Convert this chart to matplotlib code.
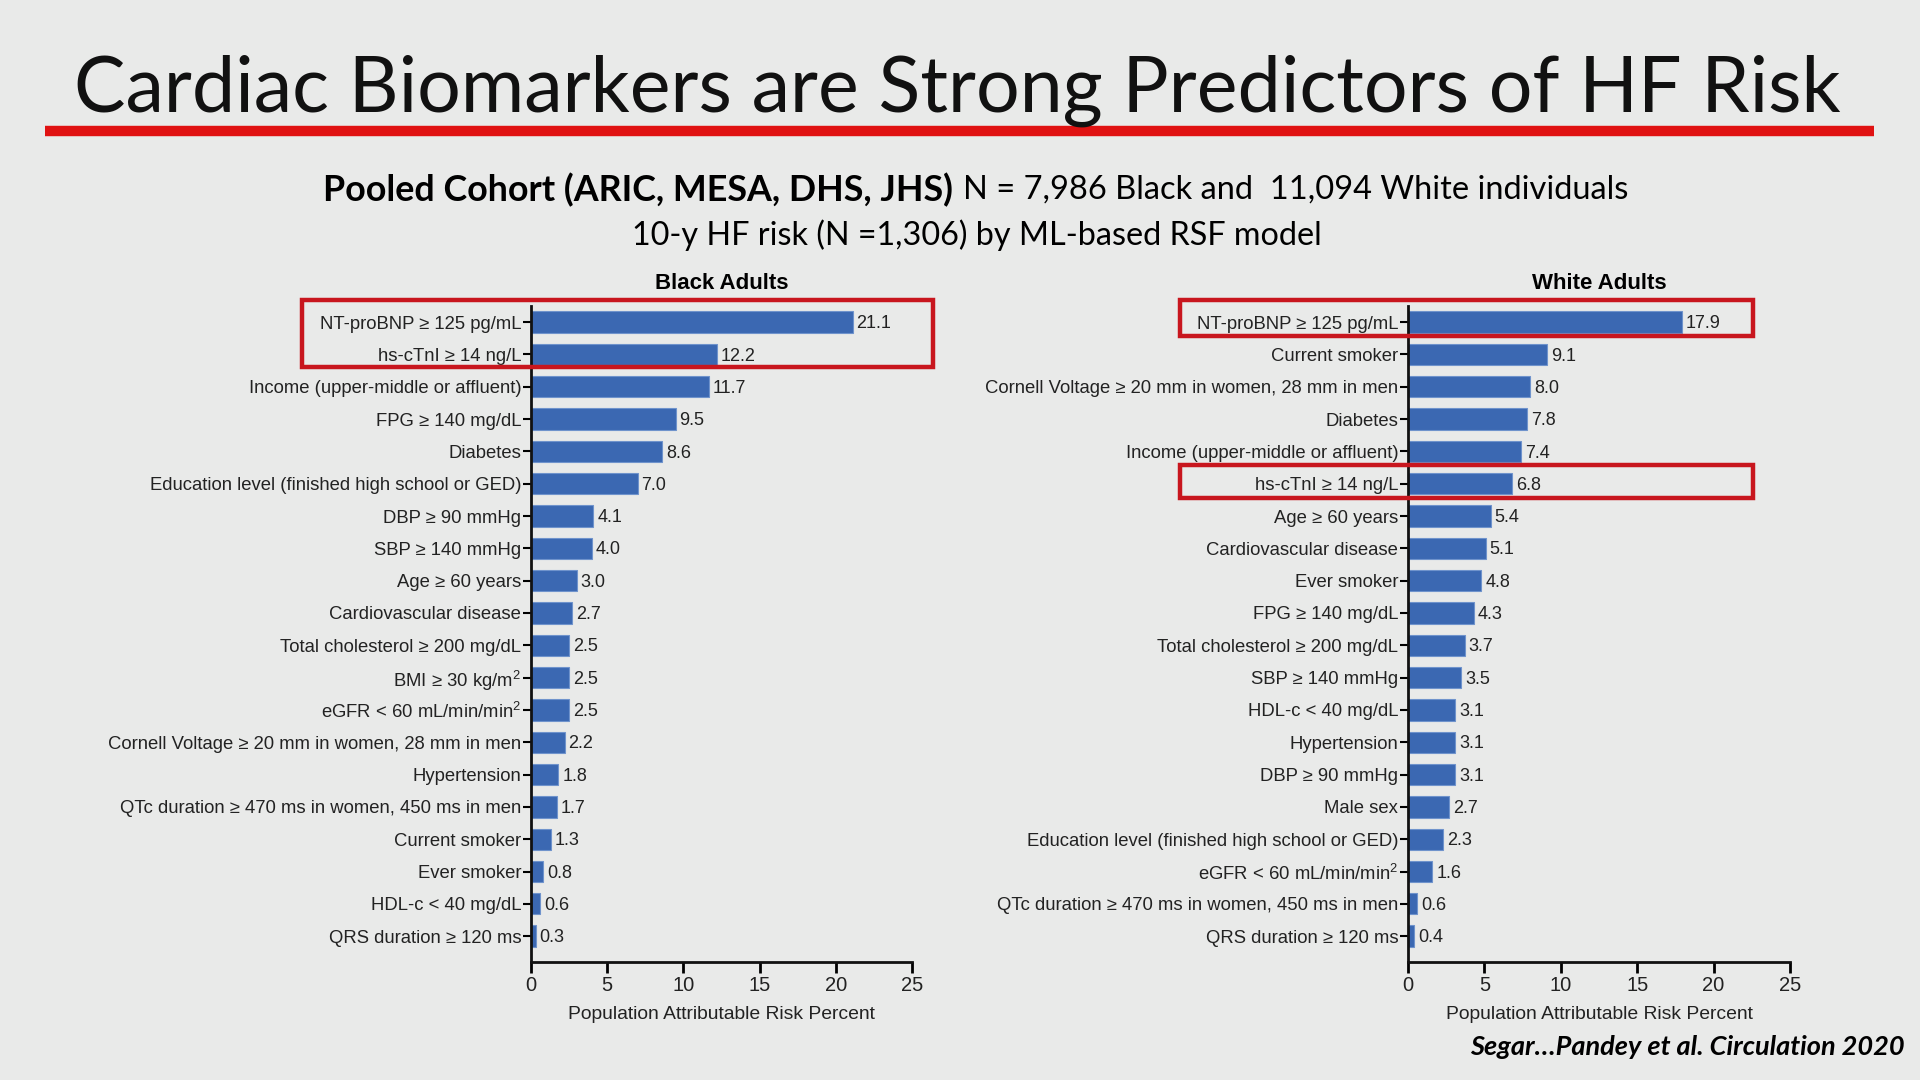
import matplotlib
matplotlib.use("Agg")
import matplotlib.pyplot as plt
from matplotlib.patches import Rectangle
import numpy as np

# data
black_labels = [
    "NT-proBNP ≥ 125 pg/mL", "hs-cTnI ≥ 14 ng/L", "Income (upper-middle or affluent)",
    "FPG ≥ 140 mg/dL", "Diabetes", "Education level (finished high school or GED)",
    "DBP ≥ 90 mmHg", "SBP ≥ 140 mmHg", "Age ≥ 60 years", "Cardiovascular disease",
    "Total cholesterol ≥ 200 mg/dL", "BMI ≥ 30 kg/m$^2$", "eGFR < 60 mL/min/min$^2$",
    "Cornell Voltage ≥ 20 mm in women, 28 mm in men", "Hypertension",
    "QTc duration ≥ 470 ms in women, 450 ms in men", "Current smoker", "Ever smoker",
    "HDL-c < 40 mg/dL", "QRS duration ≥ 120 ms",
]
black_values = [21.1, 12.2, 11.7, 9.5, 8.6, 7.0, 4.1, 4.0, 3.0, 2.7,
                2.5, 2.5, 2.5, 2.2, 1.8, 1.7, 1.3, 0.8, 0.6, 0.3]

white_labels = [
    "NT-proBNP ≥ 125 pg/mL", "Current smoker", "Cornell Voltage ≥ 20 mm in women, 28 mm in men",
    "Diabetes", "Income (upper-middle or affluent)", "hs-cTnI ≥ 14 ng/L", "Age ≥ 60 years",
    "Cardiovascular disease", "Ever smoker", "FPG ≥ 140 mg/dL", "Total cholesterol ≥ 200 mg/dL",
    "SBP ≥ 140 mmHg", "HDL-c < 40 mg/dL", "Hypertension", "DBP ≥ 90 mmHg", "Male sex",
    "Education level (finished high school or GED)", "eGFR < 60 mL/min/min$^2$",
    "QTc duration ≥ 470 ms in women, 450 ms in men", "QRS duration ≥ 120 ms",
]
white_values = [17.9, 9.1, 8.0, 7.8, 7.4, 6.8, 5.4, 5.1, 4.8, 4.3,
                3.7, 3.5, 3.1, 3.1, 3.1, 2.7, 2.3, 1.6, 0.6, 0.4]

x_ticks = [0, 5, 10, 15, 20, 25]

bg = "#e9eae9"
bar_color = "#3b68b2"
box_red = "#c8161e"
chart_font = ["Liberation Sans", "DejaVu Sans"]
slide_font = ["Lato", "DejaVu Sans"]

plt.rcParams["mathtext.fontset"] = "custom"
plt.rcParams["mathtext.rm"] = "Liberation Sans"

fig = plt.figure(figsize=(19.2, 10.8), dpi=100, facecolor=bg)

# slide title + red rule
fig.text(0.0385, 1 - 112 / 1080, "Cardiac Biomarkers are Strong Predictors of HF Risk",
         fontsize=55.5, family=slide_font, va="baseline", ha="left", color="#111111")
fig.add_artist(plt.Line2D([45 / 1920, 1874 / 1920], [1 - 131 / 1080] * 2,
                          color="#e01212", lw=7.5, solid_capstyle="butt"))

# subtitle, bold part then regular part
renderer = fig.canvas.get_renderer()
t1 = fig.text(323 / 1920, 1 - 190 / 1080, "Pooled Cohort (ARIC, MESA, DHS, JHS)",
              fontsize=25.8, fontweight="bold", family=slide_font, va="center", ha="left")
bb = t1.get_window_extent(renderer)
fig.text(bb.x1 / 1920 + 0.005, 1 - 190 / 1080, "N = 7,986 Black and  11,094 White individuals",
         fontsize=23.5, family=slide_font, va="center", ha="left")
fig.text(977 / 1920, 1 - 235 / 1080, "10-y HF risk (N =1,306) by ML-based RSF model",
         fontsize=23.3, family=slide_font, va="center", ha="center")

fig.text(1905 / 1920, 1 - 1047 / 1080, "Segar…Pandey et al. Circulation 2020",
         fontsize=19.5, fontweight="bold", style="italic", family=slide_font,
         va="center", ha="right")


def draw_panel(rect, labels, values, title, boxes):
    ax = fig.add_axes(rect)
    ax.set_facecolor(bg)
    y = np.arange(len(labels))
    ax.barh(y, values, height=0.66, color=bar_color, edgecolor="#6f93cc", linewidth=0.8)
    for yi, v in zip(y, values):
        ax.text(v + 0.25, yi + 0.05, f"{v:.1f}", va="center", ha="left", fontsize=13,
                family=chart_font, color="#222222")
    ax.set_yticks(y)
    ax.set_yticklabels(labels, fontsize=13.3, family=chart_font, color="#222222")
    ax.set_ylim(19.8, -0.5)
    ax.set_xlim(0, 25)
    ax.set_xticks(x_ticks)
    ax.set_xticklabels([str(t) for t in x_ticks], fontsize=14.5, family=chart_font, color="#222222")
    ax.set_xlabel("Population Attributable Risk Percent", fontsize=13.9, family=chart_font,
                  color="#222222", labelpad=8)
    ax.set_title(title, fontsize=16, fontweight="bold", family=chart_font, pad=12)
    for s in ["top", "right"]:
        ax.spines[s].set_visible(False)
    for s in ["left", "bottom"]:
        ax.spines[s].set_linewidth(2)
        ax.spines[s].set_color("#111111")
    ax.tick_params(axis="y", length=6, width=1.5, pad=1)
    ax.tick_params(axis="x", length=8, width=2, pad=2)
    for x0, x1, y0, y1 in boxes:
        ax.add_patch(Rectangle((x0, y0), x1 - x0, y1 - y0, fill=False, edgecolor=box_red,
                               linewidth=3.2, clip_on=False, zorder=5))
    return ax


draw_panel([531 / 1920, 118 / 1080, 381 / 1920, 656 / 1080], black_labels, black_values,
           "Black Adults", [(-15.0, 26.4, -0.68, 1.39)])
draw_panel([1408 / 1920, 118 / 1080, 382 / 1920, 656 / 1080], white_labels, white_values,
           "White Adults", [(-14.9, 22.6, -0.68, 0.43), (-14.9, 22.6, 4.41, 5.43)])

fig.savefig("out.png", dpi=100, facecolor=bg)
